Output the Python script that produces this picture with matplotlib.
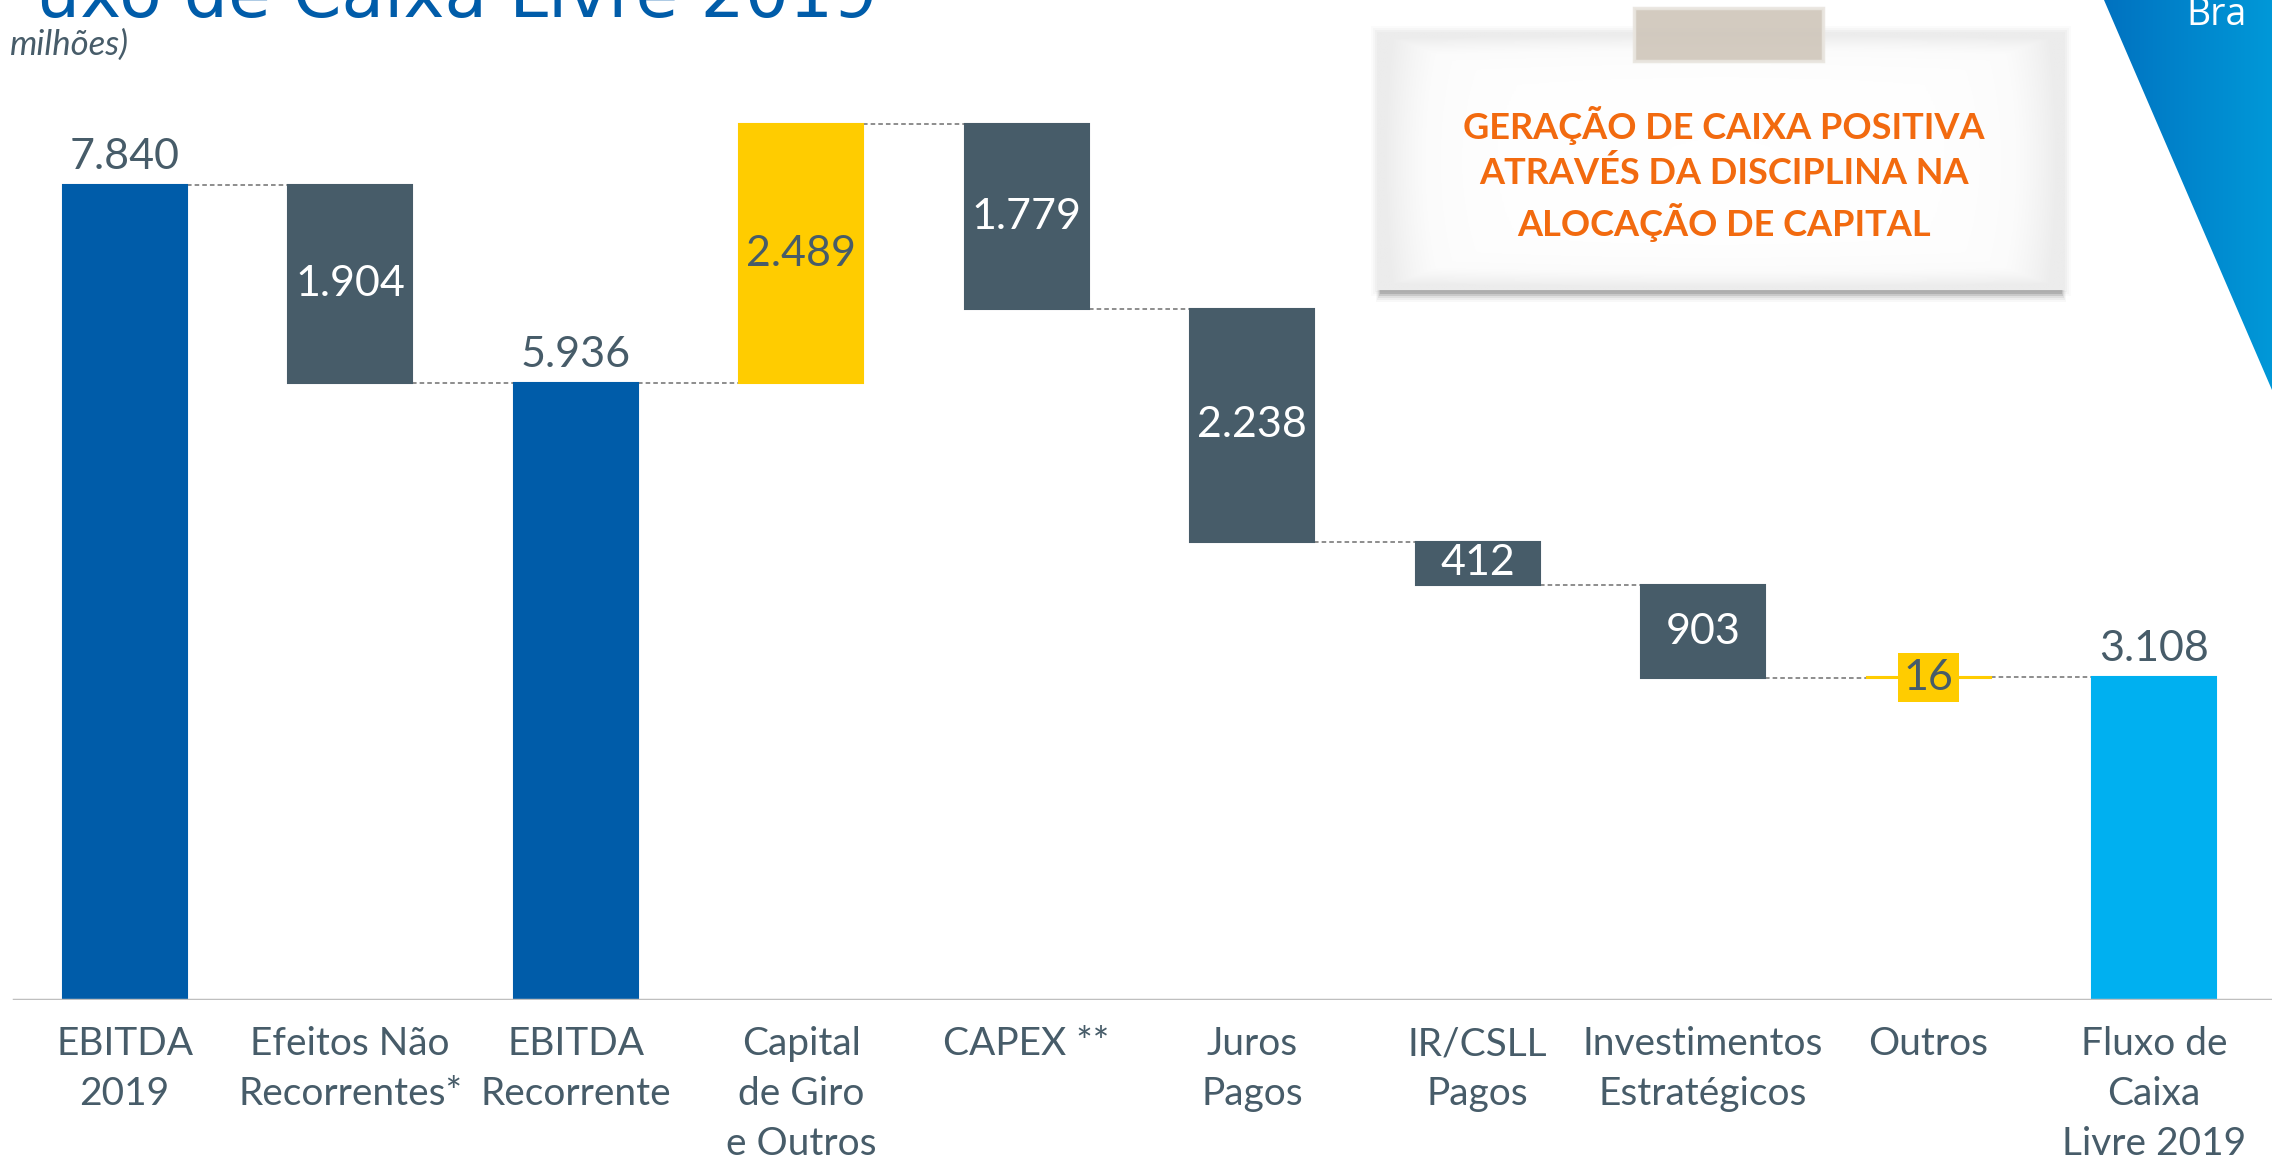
import matplotlib
matplotlib.use("Agg")
import matplotlib.pyplot as plt
import numpy as np
from matplotlib.patches import Rectangle, Polygon
from matplotlib.colors import LinearSegmentedColormap

# ---------------- data ----------------
categories = ["EBITDA\n2019", "Efeitos Não\nRecorrentes*", "EBITDA\nRecorrente",
              "Capital\nde Giro\ne Outros", "CAPEX **", "Juros\nPagos", "IR/CSLL\nPagos",
              "Investimentos\nEstratégicos", "Outros", "Fluxo de\nCaixa\nLivre 2019"]
values = [7840, -1904, 5936, 2489, -1779, -2238, -412, -903, 16, 3108]
kinds = ["total", "delta", "total", "delta", "delta", "delta", "delta", "delta", "delta", "total"]
value_labels = ["7.840", "1.904", "5.936", "2.489", "1.779", "2.238", "412", "903", "16", "3.108"]
bar_colors = ["#005CA9", "#475C69", "#005CA9", "#FFCC00", "#475C69", "#475C69",
              "#475C69", "#475C69", "#FFCC00", "#00B0F0"]
label_colors = ["#475C69", "white", "#475C69", "#475C69", "white", "white",
                "white", "white", "#475C69", "#475C69"]

title_text = "uxo de Caixa Livre 2019"
subtitle_text = "milhões)"
callout_lines = "GERAÇÃO DE CAIXA POSITIVA\nATRAVÉS DA DISCIPLINA NA\nALOCAÇÃO DE CAPITAL"

W, H = 2272, 1164
fig = plt.figure(figsize=(W / 100, H / 100), dpi=100)
fig.patch.set_facecolor("white")

# background overlay in pixel coordinates
bg = fig.add_axes([0, 0, 1, 1], zorder=0)
bg.set_xlim(0, W)
bg.set_ylim(H, 0)
bg.axis("off")

# blue triangle with gradient
tri = Polygon([[2104, 0], [W, 0], [W, 390]], closed=True, facecolor="none", edgecolor="none")
bg.add_patch(tri)
grad = np.linspace(0, 1, 256).reshape(1, -1)
cmap = LinearSegmentedColormap.from_list("bl", ["#0072C0", "#0098D8"])
im = bg.imshow(grad, extent=[2104, W, 390, 0], cmap=cmap, aspect="auto", zorder=1)
im.set_clip_path(tri)
bg.text(2186, 25, "Bra", color="white", fontsize=27,
        family=["Open Sans", "DejaVu Sans"], va="baseline", ha="left", zorder=3)

# callout box: soft shadow, gradient face
bx0, by0, bw, bh = 1377, 32, 688, 258
for k, a in enumerate([0.04, 0.06, 0.09, 0.14, 0.20]):
    off = 10 - 2 * k
    bg.add_patch(Rectangle((bx0 + 4 - off / 2, by0 + bh - 4 + off / 2), bw - 8 + off, 6 + off / 2,
                           facecolor="#555555", edgecolor="none", alpha=a, zorder=2))
for k, a in enumerate([0.03, 0.04, 0.05]):
    off = 6 - 2 * k
    bg.add_patch(Rectangle((bx0 - off, by0 - off), bw + 2 * off, bh + 2 * off,
                           facecolor="#888888", edgecolor="none", alpha=a, zorder=2))
yy, xx = np.mgrid[-1:1:200j, -1:1:400j]
dist = np.maximum(np.abs(xx) ** 6, np.abs(yy) ** 6)
dist = np.clip(dist + 0.12 * (xx ** 2 + yy ** 2), 0, 1)
box_cmap = LinearSegmentedColormap.from_list("bx", ["#FFFFFF", "#FBFBFB", "#ECECEC"])
bg.imshow(dist, extent=[bx0, bx0 + bw, by0 + bh, by0], cmap=box_cmap, vmin=0, vmax=1,
          aspect="auto", zorder=3, interpolation="bilinear")
bg.add_patch(Rectangle((1634, 8), 189, 53, facecolor="#CFC6BA", edgecolor="#E9E5DF",
                       linewidth=2.5, alpha=0.9, zorder=4))
bg.text(1724, 174, callout_lines, color="#F26A0F", fontsize=26, fontweight="bold",
        family=["Lato", "DejaVu Sans"], ha="center", va="center", linespacing=1.4, zorder=5)

# title & subtitle
bg.text(877, 17, title_text, color="#005CA9", fontsize=50, ha="right", va="baseline",
        family=["DejaVu Sans"], zorder=3)
bg.text(10, 55, subtitle_text, color="#475C69", fontsize=25, style="italic",
        family=["Lato", "DejaVu Sans"], ha="left", va="baseline", zorder=3)

# ---------------- chart ----------------
ax = fig.add_axes([0, 1 - 1000 / H, 1, 1000 / H], zorder=1)
ax.patch.set_alpha(0)
x = np.arange(len(categories))
width = 0.55

bottoms, heights, levels = [], [], []
running = 0
for v, k in zip(values, kinds):
    if k == "total":
        bottoms.append(0)
        heights.append(v)
        running = v
    else:
        if v >= 0:
            bottoms.append(running)
            heights.append(v)
        else:
            bottoms.append(running + v)
            heights.append(-v)
        running += v
    levels.append(running)

ax.bar(x, heights, bottom=bottoms, width=width, color=bar_colors,
       edgecolor=bar_colors, linewidth=1.5, zorder=2)

for i in range(len(x) - 1):
    ax.plot([x[i] + width / 2, x[i + 1] - width / 2], [levels[i], levels[i]],
            color="#6F6F6F", linestyle=(0, (3, 2)), linewidth=1.1, zorder=1)

for i in range(len(x)):
    if kinds[i] == "total":
        ax.text(x[i], bottoms[i] + heights[i] + 270, value_labels[i], ha="center",
                va="center", fontsize=31, color=label_colors[i],
                family=["Lato", "DejaVu Sans"], zorder=4)
    else:
        kw = {}
        if heights[i] < 100:
            kw["bbox"] = dict(boxstyle="square,pad=0.12", facecolor=bar_colors[i],
                              edgecolor="none")
        ax.text(x[i], bottoms[i] + heights[i] / 2, value_labels[i], ha="center",
                va="center", fontsize=31, color=label_colors[i],
                family=["Lato", "DejaVu Sans"], zorder=4, **kw)

ax.set_xlim(-0.5525, 9.523)
ax.set_ylim(0, 9620)
ax.set_xticks(x)
ax.set_xticklabels(categories, fontsize=28, color="#475C69",
                   family=["Lato", "DejaVu Sans"], linespacing=1.47)
ax.tick_params(axis="x", length=0, pad=19)
ax.set_yticks([])
for s in ["top", "right", "left", "bottom"]:
    ax.spines[s].set_visible(False)
ax.axhline(0, xmin=0.006, xmax=1, color="#BFBFBF", linewidth=2.5, zorder=3)

fig.savefig("out.png", dpi=100)
